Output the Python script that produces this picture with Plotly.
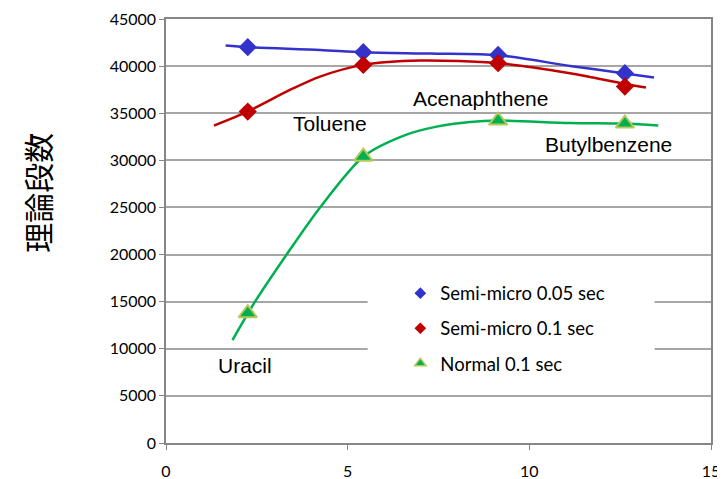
import plotly.graph_objects as go

# ---- data ----
compounds = ["Uracil", "Toluene", "Acenaphthene", "Butylbenzene"]
x_vals = [2.25, 5.43, 9.14, 12.63]
semi_005 = [42010, 41480, 41190, 39250]
semi_01 = [35170, 40130, 40310, 37830]
normal_01 = [13770, 30390, 34220, 33900]
series_names = ["Semi-micro 0.05 sec", "Semi-micro 0.1 sec", "Normal 0.1 sec"]

# hand-drawn trend curves
curve_005_x = [1.64, 2.24, 4.24, 5.43, 7.27, 9.15, 11.12, 12.63, 13.43]
curve_005_y = [42180, 42010, 41720, 41480, 41330, 41150, 40020, 39220, 38780]
curve_01_x = [1.32, 2.24, 3.41, 4.24, 5.43, 6.99, 9.15, 11.12, 12.63, 13.21]
curve_01_y = [33690, 35170, 37470, 38890, 40130, 40590, 40310, 39250, 38110, 37720]
curve_normal_x = [1.83, 2.45, 3.32, 4.24, 5.43, 6.6, 7.45, 8.37, 9.15, 11.12, 12.63, 13.55]
curve_normal_y = [10930, 15000, 20000, 25000, 30390, 32700, 33580, 34080, 34220, 33960, 33900, 33690]

# label positions for compounds
label_x = [2.17, 4.51, 8.65, 12.19]
label_y = [8230, 33860, 36600, 31670]
x_ticks = [0, 5, 10, 15]
y_ticks = list(range(0, 45001, 5000))

BLUE = "#3333CC"
RED = "#C00000"
GREEN = "#00B050"
TRI_EDGE = "#B5C95A"

fig = go.Figure()

for cx, cy, col in [(curve_005_x, curve_005_y, BLUE),
                    (curve_01_x, curve_01_y, RED),
                    (curve_normal_x, curve_normal_y, GREEN)]:
    fig.add_trace(go.Scatter(x=cx, y=cy, mode="lines",
                             line=dict(color=col, width=2.5, shape="spline", smoothing=0.8),
                             showlegend=False, hoverinfo="skip"))

fig.add_trace(go.Scatter(x=x_vals, y=semi_005, mode="markers", showlegend=False,
                         marker=dict(symbol="diamond", size=14, color=BLUE)))
fig.add_trace(go.Scatter(x=x_vals, y=semi_01, mode="markers", showlegend=False,
                         marker=dict(symbol="diamond", size=14, color=RED)))
fig.add_trace(go.Scatter(x=x_vals, y=normal_01, mode="markers", showlegend=False,
                         marker=dict(symbol="triangle-up", size=16, color=GREEN,
                                     line=dict(color=TRI_EDGE, width=2))))

# legend entries
leg_markers = [dict(symbol="diamond", size=9, color=BLUE),
               dict(symbol="diamond", size=9, color=RED),
               dict(symbol="triangle-up", size=10, color=GREEN, line=dict(color=TRI_EDGE, width=1.5))]
for i, (nm, mk) in enumerate(zip(series_names, leg_markers)):
    fig.add_trace(go.Scatter(x=[None], y=[None], mode="markers", name=nm, marker=mk,
                             legendgroup=f"g{i}"))

for txt, lx, ly in zip(compounds, label_x, label_y):
    fig.add_annotation(x=lx, y=ly, text=txt, showarrow=False,
                       font=dict(family="Liberation Sans, Arial", size=21, color="#000000"))

fig.add_annotation(xref="paper", yref="paper", x=-0.237, y=0.59, text="理論段数",
                   textangle=-90, showarrow=False, xanchor="center", yanchor="middle",
                   font=dict(family="Noto Sans CJK JP", size=30, color="#000000"))

# white legend panel covering gridlines
fig.add_shape(type="rect", xref="x", yref="y", x0=5.55, x1=13.45, y0=6800, y1=17600,
              fillcolor="white", line=dict(width=0), layer="between")

fig.update_layout(
    width=717, height=471,
    margin=dict(l=158, r=14, t=11, b=36, autoexpand=False),
    paper_bgcolor="white", plot_bgcolor="white",
    font=dict(family="Lato, Carlito, sans-serif", size=16, color="#000000"),
    legend=dict(x=0.43, y=0.397, xanchor="left", yanchor="top", bgcolor="rgba(0,0,0,0)",
                font=dict(size=18.5), tracegroupgap=8, itemwidth=30),
    showlegend=True,
)
fig.update_xaxes(range=[0, 15], tickvals=x_ticks, showgrid=False, showline=True,
                 linecolor="#868686", linewidth=1.5, mirror=True, ticks="outside",
                 ticklen=5, tickcolor="#868686", zeroline=False, ticklabelstandoff=8,
                 automargin=False)
fig.update_yaxes(range=[0, 45000], tickvals=y_ticks, tickformat="d", showgrid=True,
                 gridcolor="#A6A6A6", gridwidth=1.5, showline=True, linecolor="#868686",
                 linewidth=1.5, mirror=True, ticks="outside", ticklen=5, tickcolor="#868686",
                 zeroline=False, automargin=False)

fig.write_html("out.html")
